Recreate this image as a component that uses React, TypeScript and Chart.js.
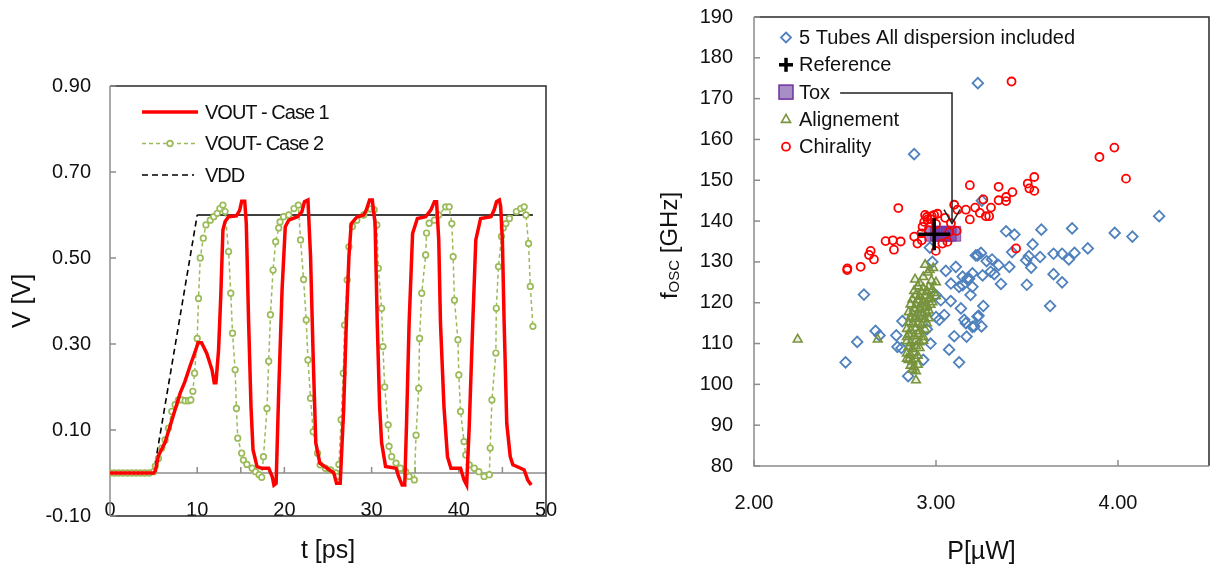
import React, { useEffect, useRef } from 'react';
import { Chart, registerables } from 'chart.js';

Chart.register(...registerables);

const FONT = '"Liberation Sans", Arial, Helvetica, sans-serif';
const TEXT = '#111111';
const AXIS_GRAY = '#8c8c8c';
const FRAME_DARK = '#2a2a2a';

// ---------------- Left chart data ----------------
const leftSeriesNames = ['VOUT - Case 1', 'VOUT- Case 2', 'VDD'];
const leftXTitle = 't [ps]';
const leftYTitle = 'V [V]';
const leftXTicks = [0, 10, 20, 30, 40, 50];
const leftXMarks = [5, 10, 15, 20, 25, 30, 35, 40, 45];
const leftYTicks = [-0.1, 0.1, 0.3, 0.5, 0.7, 0.9];

const voutCase1: [number, number][] = [
  [0, 0], [5, 0], [5.2, 0.005], [5.55, 0.04], [6.3, 0.07], [7.1, 0.123], [8.05, 0.186], [8.6, 0.213],
  [9.2, 0.25], [9.7, 0.278], [10.1, 0.303], [10.5, 0.303], [11.1, 0.278], [11.7, 0.24], [11.95, 0.21],
  [12.15, 0.21], [12.45, 0.286], [12.7, 0.41], [12.95, 0.565], [13.2, 0.585], [13.6, 0.596], [14.5, 0.598],
  [14.87, 0.611], [15.1, 0.632], [15.45, 0.632], [15.63, 0.58], [15.9, 0.348], [16.17, 0.154], [16.4, 0.054],
  [16.86, 0.015], [17.4, 0.011], [18.2, 0.011], [18.6, -0.008], [18.8, -0.028], [19.05, -0.024], [19.35, 0.192],
  [19.73, 0.425], [20.1, 0.573], [20.5, 0.588], [21.5, 0.596], [22.0, 0.607], [22.3, 0.631], [22.7, 0.635],
  [23.0, 0.503], [23.3, 0.27], [23.6, 0.07], [24.06, 0.023], [24.9, 0.011], [25.67, 0.0], [25.98, -0.024],
  [26.4, -0.024], [26.8, 0.15], [27.1, 0.348], [27.4, 0.503], [27.66, 0.58], [28.35, 0.596], [29.1, 0.6],
  [29.4, 0.612], [29.77, 0.635], [30.08, 0.635], [30.4, 0.58], [30.65, 0.348], [30.92, 0.154], [31.15, 0.07],
  [31.6, 0.015], [32.8, 0.011], [33.1, -0.008], [33.5, -0.028], [33.8, -0.028], [34.0, 0.11], [34.3, 0.348],
  [34.7, 0.557], [35.25, 0.592], [36.2, 0.596], [36.8, 0.612], [37.2, 0.631], [37.45, 0.631], [37.7, 0.542],
  [37.9, 0.348], [38.3, 0.154], [38.7, 0.038], [39.1, 0.011], [40.2, 0.011], [40.6, -0.016], [40.9, -0.028],
  [41.2, 0.11], [41.6, 0.348], [41.95, 0.542], [42.5, 0.592], [43.7, 0.596], [44.06, 0.612], [44.33, 0.631],
  [44.65, 0.635], [44.8, 0.62], [45.0, 0.54], [45.2, 0.35], [45.5, 0.115], [45.9, 0.038], [46.2, 0.019],
  [47.1, 0.011], [47.5, 0.007], [47.9, -0.016], [48.3, -0.028],
];

const voutCase2: [number, number][] = [
  [0, 0], [0.5, 0], [1, 0], [1.5, 0], [2, 0], [2.5, 0], [3, 0], [3.5, 0], [4, 0], [4.5, 0], [5, 0.003],
  [5.2, 0.016], [5.55, 0.034], [5.94, 0.058], [6.32, 0.077], [6.7, 0.104], [7.09, 0.143], [7.47, 0.159],
  [7.85, 0.17], [8.24, 0.17], [8.62, 0.168], [9.0, 0.168], [9.27, 0.17], [9.5, 0.19], [9.7, 0.232],
  [10.0, 0.313], [10.15, 0.406], [10.35, 0.5], [10.7, 0.546], [11.0, 0.577], [11.5, 0.588], [11.9, 0.596],
  [12.3, 0.604], [12.6, 0.615], [12.95, 0.623], [13.2, 0.608], [13.6, 0.515], [13.85, 0.418], [14.05, 0.325],
  [14.35, 0.24], [14.5, 0.15], [14.65, 0.081], [15.1, 0.046], [15.3, 0.03], [15.7, 0.02], [16.3, 0.011],
  [16.7, 0.003], [17.1, -0.004], [17.4, -0.01], [17.6, 0.038], [18.0, 0.15], [18.2, 0.26], [18.4, 0.368],
  [18.7, 0.472], [19.0, 0.538], [19.35, 0.57], [19.5, 0.584], [19.9, 0.596], [20.5, 0.6], [21.1, 0.615],
  [21.6, 0.623], [21.85, 0.542], [22.2, 0.45], [22.5, 0.356], [22.7, 0.263], [23.0, 0.174], [23.3, 0.096],
  [23.8, 0.046], [24.1, 0.019], [24.7, 0.011], [25.3, 0.007], [25.9, 0.0], [26.05, -0.008], [26.25, 0.02],
  [26.5, 0.124], [26.75, 0.232], [26.9, 0.344], [27.2, 0.449], [27.4, 0.526], [27.8, 0.573], [28.3, 0.588],
  [29.1, 0.6], [29.9, 0.614], [30.3, 0.612], [30.6, 0.577], [30.77, 0.476], [31.15, 0.383], [31.3, 0.294],
  [31.5, 0.2], [31.9, 0.112], [32.0, 0.062], [32.3, 0.038], [32.8, 0.023], [33.3, 0.011], [33.9, 0.003],
  [34.3, -0.008], [34.9, -0.016], [35.1, 0.088], [35.4, 0.197], [35.5, 0.313], [35.75, 0.418], [36.2, 0.507],
  [36.3, 0.558], [36.6, 0.581], [37.2, 0.588], [37.7, 0.6], [38.5, 0.619], [38.9, 0.619], [39.2, 0.58],
  [39.35, 0.503], [39.5, 0.402], [39.9, 0.31], [40.0, 0.228], [40.2, 0.143], [40.6, 0.073], [40.8, 0.042],
  [41.2, 0.019], [41.77, 0.011], [42.3, 0.003], [42.9, -0.008], [43.5, -0.004], [43.6, 0.058], [43.8, 0.17],
  [44.25, 0.279], [44.3, 0.383], [44.55, 0.48], [44.9, 0.55], [45.1, 0.57], [45.4, 0.58], [45.8, 0.592],
  [46.6, 0.608], [47.1, 0.615], [47.5, 0.619], [47.7, 0.6], [48.0, 0.534], [48.2, 0.434], [48.5, 0.341],
];

const vddSupply: [number, number][] = [[0, 0], [5, 0], [10, 0.6], [48.5, 0.6]];

// ---------------- Right chart data ----------------
const rightSeriesNames = ['5 Tubes All dispersion included', 'Reference', 'Tox', 'Alignement', 'Chirality'];
const rightXTitle = 'P[\u00B5W]';
const rightYTitleMain = 'f';
const rightYTitleSub = 'OSC';
const rightYTitleTail = ' [GHz]';
const rightXTicks = [2, 3, 4];
const rightYTicks = [80, 90, 100, 110, 120, 130, 140, 150, 160, 170, 180, 190];

const tubesAll: [number, number][] = [
  [3.23, 173.8], [2.88, 156.4],
  [4.226, 141.2], [3.982, 137.1], [4.079, 136.2], [3.748, 138.2], [3.579, 137.9], [3.385, 137.5], [3.431, 136.7],
  [3.252, 145.0], [3.531, 134.3], [3.834, 133.3], [3.761, 132.2], [3.73, 130.6], [3.693, 132.0], [3.646, 132.0],
  [3.572, 131.2], [3.51, 131.4], [3.495, 130.4], [3.523, 128.6], [3.418, 132.4], [3.403, 128.8], [3.344, 129.2],
  [3.308, 130.6], [3.278, 130.2], [3.247, 132.2], [3.229, 131.6], [3.32, 127.0], [3.256, 126.7], [3.646, 127.0],
  [3.693, 125.0], [3.499, 124.4], [3.357, 124.6], [3.627, 119.2], [3.2, 127.2], [3.182, 125.9], [3.2, 123.9],
  [3.19, 121.9], [3.26, 119.2], [3.234, 116.8], [3.164, 115.0], [3.21, 114.2], [3.25, 114.2], [3.168, 111.7],
  [2.604, 122.0], [2.503, 105.4], [2.567, 110.4], [2.668, 113.1], [2.69, 112.0], [2.782, 112.0], [2.815, 115.5],
  [2.788, 109.2], [2.81, 108.9], [2.847, 102.0], [2.98, 130.0], [2.966, 133.5], [3.054, 127.8], [3.109, 128.8],
  [3.082, 124.7], [2.999, 121.9], [3.026, 120.6], [3.081, 120.4], [3.146, 126.4], [3.173, 126.0], [3.127, 123.9],
  [3.146, 124.3], [3.137, 118.6], [3.045, 117.0], [3.018, 115.8], [3.1, 111.8], [3.072, 108.5], [3.127, 105.4],
  [3.155, 115.8], [3.2, 114.1], [3.228, 116.6], [3.219, 131.6], [3.3, 127.6],
  [2.95, 113.5], [2.92, 117.0], [2.97, 110.0], [2.9, 120.0], [3.0, 116.5], [2.93, 106.0],
];

const referencePt: [number, number][] = [[2.99, 136.8]];

const toxPts: [number, number][] = [[2.98, 136.9], [3.01, 136.9], [3.04, 136.9], [3.07, 136.9], [3.095, 136.9]];

const alignementPts: [number, number][] = [
  [2.24, 111.0], [2.68, 111.0], [2.89, 101.0], [2.84, 106.3], [2.84, 111.6],
  [2.94, 129.3], [2.985, 128.5], [2.885, 125.7], [2.955, 127.4], [3.0, 125.0], [2.975, 125.4], [2.93, 126.3],
  [2.965, 128.0], [2.91, 124.8],
  [2.9, 124.0], [2.93, 123.6], [2.96, 123.9], [2.98, 123.2],
  [2.88, 122.9], [2.92, 122.6], [2.95, 122.8], [2.99, 122.4],
  [2.89, 121.9], [2.91, 121.5], [2.94, 121.7], [2.97, 121.2], [3.0, 121.6],
  [2.87, 120.8], [2.9, 120.6], [2.93, 120.3], [2.96, 120.9], [2.98, 120.1],
  [2.86, 119.6], [2.89, 119.4], [2.92, 119.8], [2.95, 119.2], [2.97, 119.5],
  [2.88, 118.6], [2.91, 118.3], [2.94, 118.8], [2.96, 118.1],
  [2.85, 117.7], [2.87, 117.3], [2.9, 117.6], [2.93, 117.1], [2.95, 117.4],
  [2.86, 116.4], [2.88, 116.0], [2.91, 116.6], [2.94, 115.9], [2.96, 116.2],
  [2.85, 115.2], [2.87, 114.8], [2.9, 115.0], [2.92, 114.6], [2.95, 114.9],
  [2.84, 113.6], [2.86, 113.2], [2.89, 113.8], [2.91, 113.0], [2.94, 113.4],
  [2.85, 112.2], [2.88, 111.8], [2.9, 112.4], [2.93, 111.6],
  [2.84, 110.6], [2.86, 110.1], [2.89, 110.8], [2.91, 110.3], [2.93, 110.7],
  [2.85, 109.2], [2.87, 108.7], [2.89, 109.4], [2.91, 108.9],
  [2.84, 107.6], [2.86, 107.2], [2.88, 107.8], [2.9, 107.0],
  [2.85, 106.0], [2.87, 105.6], [2.89, 106.2],
  [2.86, 104.6], [2.88, 104.2], [2.9, 104.8], [2.87, 103.6], [2.89, 103.2],
];

const chiralityPts: [number, number][] = [
  [3.415, 174.2], [3.98, 158.0], [3.898, 155.7], [4.044, 150.4], [3.54, 150.8], [3.504, 149.2], [3.513, 148.0],
  [3.54, 147.4], [3.42, 147.1], [3.385, 145.9], [3.344, 145.1], [3.385, 144.9], [3.344, 148.4], [3.26, 145.3],
  [3.186, 148.8], [3.164, 142.8], [3.215, 143.3], [3.241, 142.0], [3.274, 141.2], [3.292, 141.2], [3.302, 143.3],
  [3.186, 140.4], [3.44, 133.3],
  [2.793, 143.2], [3.118, 142.8], [3.1, 144.0], [3.082, 139.5], [3.113, 137.6], [3.008, 141.8], [2.977, 141.2],
  [2.953, 140.4], [2.935, 139.8], [2.926, 138.6], [2.88, 136.2], [2.922, 135.3], [2.723, 135.1], [2.763, 135.3],
  [2.806, 135.0], [2.769, 133.0], [2.641, 132.7], [2.632, 131.7], [2.659, 130.6], [2.586, 128.8], [2.513, 128.4],
  [2.512, 128.0], [2.999, 132.7], [3.035, 134.5], [3.063, 134.9], [3.072, 137.3], [2.898, 134.5],
  [2.95, 141.0], [2.97, 140.5], [3.0, 139.3], [2.96, 137.8], [2.94, 141.5],
  [2.99, 141.5], [3.05, 140.8], [2.92, 137.0],
];

const toxArrowTip: [number, number] = [3.088, 139.4];

// ---------------- styles ----------------
const RED = '#FF0000';
const GREEN_LINE = '#9BBB59';
const BLUE = '#4F81BD';
const GREEN_TRI = '#77933C';
const PURPLE = '#7030A0';

const xy = (pts: [number, number][]) => pts.map(([x, y]) => ({ x, y }));

function seg(ctx: CanvasRenderingContext2D, x1: number, y1: number, x2: number, y2: number) {
  ctx.beginPath();
  ctx.moveTo(x1, y1);
  ctx.lineTo(x2, y2);
  ctx.stroke();
}

function fixSize(prop: 'width' | 'height', size: number) {
  return (s: any) => {
    s[prop] = size;
    s.paddingLeft = 0;
    s.paddingRight = 0;
    s.paddingTop = 0;
    s.paddingBottom = 0;
  };
}

const leftDecor = {
  id: 'leftDecor',
  beforeDatasetsDraw(chart: any) {
    const { ctx, chartArea: a, scales } = chart;
    const xs = scales.x;
    const ys = scales.y;
    ctx.save();
    ctx.lineWidth = 1.5;
    const y0 = ys.getPixelForValue(0);
    ctx.strokeStyle = AXIS_GRAY;
    seg(ctx, a.left, y0, a.right, y0);
    for (const t of leftXMarks) {
      const px = xs.getPixelForValue(t);
      seg(ctx, px, y0, px, y0 - 6);
    }
    ctx.strokeStyle = FRAME_DARK;
    ctx.beginPath();
    ctx.moveTo(a.left, a.top);
    ctx.lineTo(a.right, a.top);
    ctx.lineTo(a.right, a.bottom);
    ctx.lineTo(a.left, a.bottom);
    ctx.stroke();
    ctx.strokeStyle = AXIS_GRAY;
    seg(ctx, a.left, a.top, a.left, a.bottom);
    for (const v of leftYTicks) {
      const py = ys.getPixelForValue(v);
      seg(ctx, a.left, py, a.left + 6, py);
    }
    ctx.restore();
  },
  afterDatasetsDraw(chart: any) {
    const { ctx } = chart;
    const rows = [112, 143.5, 175];
    const x1 = 142;
    const x2 = 198;
    const tx = 205;
    ctx.save();
    ctx.strokeStyle = RED;
    ctx.lineWidth = 3.5;
    ctx.setLineDash([]);
    seg(ctx, x1, rows[0], x2, rows[0]);
    ctx.strokeStyle = GREEN_LINE;
    ctx.lineWidth = 1.5;
    ctx.setLineDash([4, 3]);
    seg(ctx, x1, rows[1], x2, rows[1]);
    ctx.setLineDash([]);
    ctx.beginPath();
    ctx.arc((x1 + x2) / 2, rows[1], 2.8, 0, Math.PI * 2);
    ctx.fillStyle = '#ffffff';
    ctx.fill();
    ctx.lineWidth = 1.7;
    ctx.stroke();
    ctx.strokeStyle = '#000000';
    ctx.lineWidth = 1.6;
    ctx.setLineDash([6, 4]);
    seg(ctx, x1, rows[2], x2 - 4, rows[2]);
    ctx.setLineDash([]);
    ctx.fillStyle = TEXT;
    ctx.font = `20px ${FONT}`;
    ctx.textAlign = 'left';
    ctx.textBaseline = 'middle';
    (ctx as any).letterSpacing = '-1px';
    leftSeriesNames.forEach((n, i) => ctx.fillText(n, tx, rows[i] + 1));
    (ctx as any).letterSpacing = '0px';
    ctx.restore();
  },
};

function drawMarker(ctx: CanvasRenderingContext2D, kind: string, x: number, y: number) {
  ctx.save();
  ctx.setLineDash([]);
  if (kind === 'diamond') {
    ctx.strokeStyle = BLUE;
    ctx.lineWidth = 1.8;
    ctx.beginPath();
    ctx.moveTo(x, y - 5);
    ctx.lineTo(x + 5, y);
    ctx.lineTo(x, y + 5);
    ctx.lineTo(x - 5, y);
    ctx.closePath();
    ctx.stroke();
  } else if (kind === 'cross') {
    ctx.strokeStyle = '#000000';
    ctx.lineWidth = 3.5;
    seg(ctx, x - 7, y, x + 7, y);
    seg(ctx, x, y - 7, x, y + 7);
  } else if (kind === 'square') {
    ctx.fillStyle = '#A58FC4';
    ctx.strokeStyle = PURPLE;
    ctx.lineWidth = 1.5;
    ctx.fillRect(x - 7, y - 7, 14, 14);
    ctx.strokeRect(x - 7, y - 7, 14, 14);
  } else if (kind === 'triangle') {
    ctx.strokeStyle = GREEN_TRI;
    ctx.lineWidth = 1.6;
    ctx.beginPath();
    ctx.moveTo(x, y - 5);
    ctx.lineTo(x + 4.5, y + 3);
    ctx.lineTo(x - 4.5, y + 3);
    ctx.closePath();
    ctx.stroke();
  } else {
    ctx.strokeStyle = RED;
    ctx.lineWidth = 1.8;
    ctx.beginPath();
    ctx.arc(x, y, 4, 0, Math.PI * 2);
    ctx.stroke();
  }
  ctx.restore();
}

const rightLegendRows = [37.5, 64.8, 92.1, 119.4, 146.7];
const rightLegendMarkers = ['diamond', 'cross', 'square', 'triangle', 'circle'];

const rightDecor = {
  id: 'rightDecor',
  beforeDatasetsDraw(chart: any) {
    const { ctx, chartArea: a, scales } = chart;
    const xs = scales.x;
    const ys = scales.y;
    ctx.save();
    ctx.lineWidth = 1.5;
    ctx.strokeStyle = FRAME_DARK;
    ctx.beginPath();
    ctx.moveTo(a.left, a.top);
    ctx.lineTo(a.right, a.top);
    ctx.lineTo(a.right, a.bottom);
    ctx.stroke();
    ctx.strokeStyle = AXIS_GRAY;
    ctx.beginPath();
    ctx.moveTo(a.left, a.top);
    ctx.lineTo(a.left, a.bottom);
    ctx.lineTo(a.right, a.bottom);
    ctx.stroke();
    for (const v of rightYTicks) {
      const py = ys.getPixelForValue(v);
      seg(ctx, a.left, py, a.left + 6, py);
    }
    for (const v of rightXTicks) {
      const px = xs.getPixelForValue(v);
      seg(ctx, px, a.bottom, px, a.bottom - 6);
    }
    ctx.restore();
  },
  afterDatasetsDraw(chart: any) {
    const { ctx, chartArea: a, scales } = chart;
    const xs = scales.x;
    const ys = scales.y;
    const mx = 186;
    const tx = 199;
    ctx.save();
    ctx.font = `20px ${FONT}`;
    ctx.fillStyle = TEXT;
    ctx.textAlign = 'left';
    ctx.textBaseline = 'middle';
    rightSeriesNames.forEach((n, i) => {
      drawMarker(ctx, rightLegendMarkers[i], mx, rightLegendRows[i]);
      ctx.fillStyle = TEXT;
      ctx.fillText(n, tx, rightLegendRows[i] + 1);
    });
    const startX = tx + ctx.measureText(rightSeriesNames[2]).width + 10;
    const tipX = xs.getPixelForValue(toxArrowTip[0]);
    const tipY = ys.getPixelForValue(toxArrowTip[1]);
    const rowY = rightLegendRows[2] + 1;
    ctx.strokeStyle = '#222222';
    ctx.lineWidth = 1.5;
    ctx.beginPath();
    ctx.moveTo(startX, rowY);
    ctx.lineTo(tipX, rowY);
    ctx.lineTo(tipX, tipY);
    ctx.stroke();
    ctx.beginPath();
    ctx.moveTo(tipX - 8, tipY - 14);
    ctx.lineTo(tipX, tipY);
    ctx.lineTo(tipX + 8, tipY - 14);
    ctx.stroke();
    ctx.translate(70, (a.top + a.bottom) / 2 + 4);
    ctx.rotate(-Math.PI / 2);
    const big = `24px ${FONT}`;
    const small = `15px ${FONT}`;
    ctx.font = big;
    const w1 = ctx.measureText(rightYTitleMain).width;
    const w3 = ctx.measureText(rightYTitleTail).width;
    ctx.font = small;
    const w2 = ctx.measureText(rightYTitleSub).width;
    let cx = -(w1 + w2 + w3) / 2;
    ctx.fillStyle = TEXT;
    ctx.font = big;
    ctx.fillText(rightYTitleMain, cx, 0);
    cx += w1;
    ctx.font = small;
    ctx.fillText(rightYTitleSub, cx, 5);
    cx += w2;
    ctx.font = big;
    ctx.fillText(rightYTitleTail, cx, 0);
    ctx.restore();
  },
};

function leftConfig(): any {
  return {
    type: 'line',
    data: {
      datasets: [
        {
          label: leftSeriesNames[0],
          data: xy(voutCase1),
          borderColor: RED,
          borderWidth: 3.5,
          pointRadius: 0,
          fill: false,
          tension: 0,
        },
        {
          label: leftSeriesNames[1],
          data: xy(voutCase2),
          borderColor: GREEN_LINE,
          borderWidth: 1.5,
          borderDash: [4, 3],
          pointRadius: 2.8,
          pointStyle: 'circle',
          pointBorderColor: GREEN_LINE,
          pointBackgroundColor: '#ffffff',
          pointBorderWidth: 1.7,
          fill: false,
          tension: 0,
        },
        {
          label: leftSeriesNames[2],
          data: xy(vddSupply),
          borderColor: '#000000',
          borderWidth: 1.6,
          pointRadius: 0,
          fill: false,
          tension: 0,
          segment: {
            borderDash: (c: any) => (c.p1.parsed.y !== c.p0.parsed.y ? [6, 4] : undefined),
          },
        },
      ],
    },
    options: {
      responsive: false,
      animation: false,
      events: [],
      devicePixelRatio: 1,
      layout: { autoPadding: false, padding: { left: 0, top: 86, right: 54, bottom: 0 } },
      plugins: { legend: { display: false }, tooltip: { enabled: false } },
      scales: {
        x: {
          type: 'linear',
          min: 0,
          max: 50,
          afterBuildTicks: (s: any) => {
            s.ticks = leftXTicks.map((v) => ({ value: v }));
          },
          afterFit: fixSize('height', 52),
          grid: { display: false, drawTicks: false },
          border: { display: false },
          ticks: {
            mirror: true,
            padding: -6,
            autoSkip: false,
            maxRotation: 0,
            color: TEXT,
            font: { family: FONT, size: 20 },
            callback: (v: any) => String(v),
          },
          title: {
            display: true,
            text: leftXTitle,
            color: TEXT,
            font: { family: FONT, size: 25 },
            padding: { top: 0, bottom: 2 },
          },
        },
        y: {
          type: 'linear',
          min: -0.1,
          max: 0.9,
          afterBuildTicks: (s: any) => {
            s.ticks = leftYTicks.map((v) => ({ value: v }));
          },
          afterFit: fixSize('width', 110),
          grid: { display: false, drawTicks: false },
          border: { display: false },
          ticks: {
            padding: 19,
            autoSkip: false,
            color: TEXT,
            font: { family: FONT, size: 20 },
            callback: (v: any) => Number(v).toFixed(2),
          },
          title: {
            display: true,
            text: leftYTitle,
            color: TEXT,
            font: { family: FONT, size: 25 },
            padding: { top: 8, bottom: 0 },
          },
        },
      },
    },
    plugins: [leftDecor],
  };
}

function rightConfig(): any {
  return {
    type: 'scatter',
    data: {
      datasets: [
        {
          label: rightSeriesNames[0],
          data: xy(tubesAll),
          pointStyle: 'rectRot',
          pointRadius: 5.3,
          pointBorderColor: BLUE,
          pointBackgroundColor: 'rgba(0,0,0,0)',
          pointBorderWidth: 1.8,
          order: 4,
        },
        {
          label: rightSeriesNames[1],
          data: xy(referencePt),
          pointStyle: 'cross',
          pointRadius: 16,
          pointBorderColor: '#000000',
          pointBackgroundColor: '#000000',
          pointBorderWidth: 3.5,
          order: 0,
        },
        {
          label: rightSeriesNames[2],
          data: xy(toxPts),
          pointStyle: 'rect',
          pointRadius: 10.5,
          pointBorderColor: 'rgba(112,48,160,0.75)',
          pointBackgroundColor: 'rgba(112,48,160,0.6)',
          pointBorderWidth: 1,
          order: 2,
        },
        {
          label: rightSeriesNames[3],
          data: xy(alignementPts),
          pointStyle: 'triangle',
          pointRadius: 5,
          pointBorderColor: GREEN_TRI,
          pointBackgroundColor: 'rgba(119,147,60,0.15)',
          pointBorderWidth: 1.6,
          order: 3,
        },
        {
          label: rightSeriesNames[4],
          data: xy(chiralityPts),
          pointStyle: 'circle',
          pointRadius: 4,
          pointBorderColor: RED,
          pointBackgroundColor: 'rgba(0,0,0,0)',
          pointBorderWidth: 1.8,
          order: 1,
        },
      ],
    },
    options: {
      responsive: false,
      animation: false,
      events: [],
      devicePixelRatio: 1,
      layout: { autoPadding: false, padding: { left: 0, top: 17, right: 6, bottom: 0 } },
      plugins: { legend: { display: false }, tooltip: { enabled: false } },
      scales: {
        x: {
          type: 'linear',
          min: 2,
          max: 4.5,
          afterBuildTicks: (s: any) => {
            s.ticks = rightXTicks.map((v) => ({ value: v }));
          },
          afterFit: fixSize('height', 102),
          grid: { display: false, drawTicks: false },
          border: { display: false },
          ticks: {
            padding: 25,
            autoSkip: false,
            maxRotation: 0,
            color: TEXT,
            font: { family: FONT, size: 20 },
            callback: (v: any) => Number(v).toFixed(2),
          },
          title: {
            display: true,
            text: rightXTitle,
            color: TEXT,
            font: { family: FONT, size: 25 },
            padding: { top: 0, bottom: 1 },
          },
        },
        y: {
          type: 'linear',
          min: 80,
          max: 190,
          afterBuildTicks: (s: any) => {
            s.ticks = rightYTicks.map((v) => ({ value: v }));
          },
          afterFit: fixSize('width', 154),
          grid: { display: false, drawTicks: false },
          border: { display: false },
          ticks: {
            padding: 21,
            autoSkip: false,
            color: TEXT,
            font: { family: FONT, size: 20 },
            callback: (v: any) => String(Math.round(Number(v))),
          },
          title: { display: false },
        },
      },
    },
    plugins: [rightDecor],
  };
}

export default function App() {
  const leftRef = useRef<HTMLCanvasElement>(null);
  const rightRef = useRef<HTMLCanvasElement>(null);

  useEffect(() => {
    if (!leftRef.current || !rightRef.current) return;
    const left = new Chart(leftRef.current, leftConfig());
    const right = new Chart(rightRef.current, rightConfig());
    return () => {
      left.destroy();
      right.destroy();
    };
  }, []);

  return (
    <div
      style={{
        position: 'absolute',
        left: 0,
        top: 0,
        width: 1215,
        height: 568,
        background: '#ffffff',
        overflow: 'hidden',
      }}
    >
      <canvas
        ref={leftRef}
        width={600}
        height={568}
        style={{ position: 'absolute', left: 0, top: 0, width: 600, height: 568 }}
      />
      <canvas
        ref={rightRef}
        width={615}
        height={568}
        style={{ position: 'absolute', left: 600, top: 0, width: 615, height: 568 }}
      />
    </div>
  );
}
